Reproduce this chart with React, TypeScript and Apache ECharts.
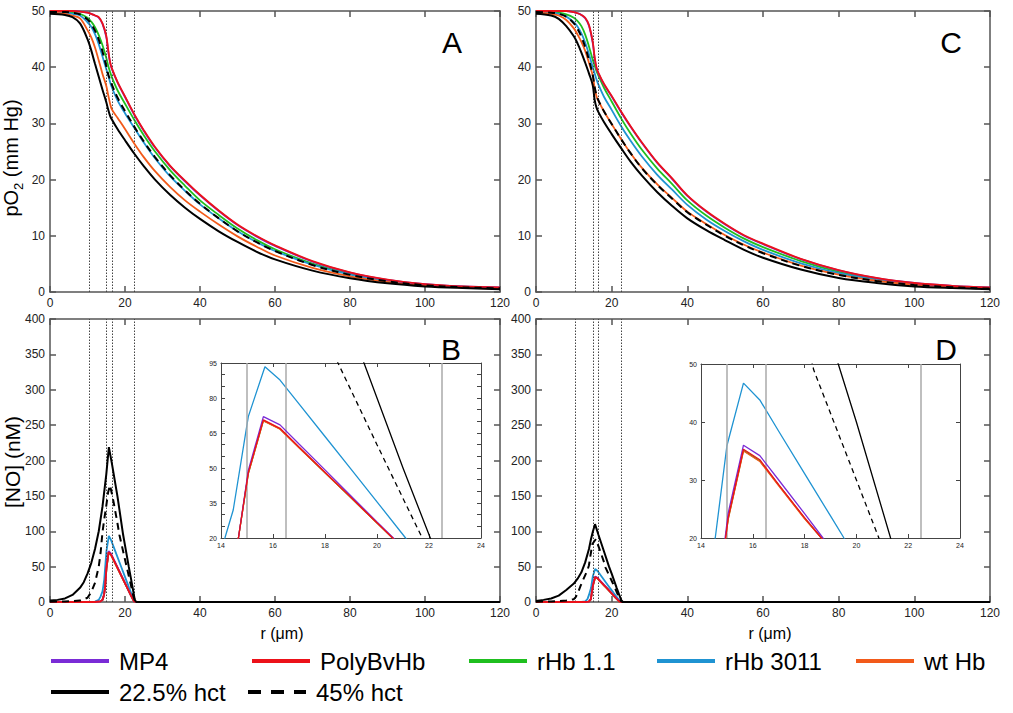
import React, { useEffect, useRef } from 'react';
import * as echarts from 'echarts';

// ---------- data ----------
const R_PO2 = [0, 4, 6, 8, 10, 11, 12, 13, 14, 15, 15.5, 16, 16.5, 18, 20, 22.5, 25, 28, 32, 36, 40, 45, 50, 55, 60, 70, 80, 90, 100, 110, 120];

// Panel A (pO2, mm Hg)
const A_MP4 = [50, 50, 50, 49.9, 49.7, 49.5, 49.2, 48.8, 47.7, 45.4, 43, 40.9, 39.7, 37.3, 34.7, 31.5, 28.7, 25.7, 22.4, 19.7, 17.2, 14.4, 11.9, 9.9, 8.2, 5.4, 3.45, 2.15, 1.4, 1.0, 0.8];
const A_POLY = [50, 50, 50, 49.9, 49.7, 49.5, 49.2, 48.9, 47.8, 45.6, 43.2, 41, 39.8, 37.4, 34.8, 31.6, 28.8, 25.8, 22.5, 19.8, 17.3, 14.5, 12, 10, 8.3, 5.5, 3.5, 2.2, 1.4, 1.0, 0.8];
const A_RHB11 = [49.9, 49.8, 49.7, 49.5, 48.8, 48.1, 47.1, 45.7, 43.9, 41.7, 40.3, 39.2, 38.2, 35.9, 33.5, 30.6, 27.9, 25, 21.7, 18.9, 16.3, 13.7, 11.3, 9.3, 7.6, 5.05, 3.25, 2.05, 1.3, 0.95, 0.75];
const A_RHB3011 = [49.8, 49.7, 49.5, 49.2, 48, 47.2, 45.9, 44.1, 41.9, 39.7, 38.6, 37.4, 36.4, 34.1, 31.8, 29.2, 26.6, 23.8, 20.6, 18, 15.6, 13.1, 10.8, 8.9, 7.3, 4.85, 3.1, 1.95, 1.25, 0.9, 0.7];
const A_WT = [49.7, 49.5, 49.2, 48.7, 46.6, 45.3, 43.5, 41.2, 38.8, 36.7, 35.1, 33.6, 32.5, 31, 29, 26.4, 24, 21.5, 18.7, 16.3, 14.3, 12, 9.9, 8.1, 6.5, 4.3, 2.8, 1.8, 1.15, 0.8, 0.6];
const A_HCT22 = [49.5, 49.3, 48.9, 47.8, 45, 43, 40.6, 38.3, 36, 33.8, 32.5, 31.4, 30.7, 29, 27, 24.6, 22.4, 20, 17.3, 15, 13, 10.8, 8.9, 7.2, 5.8, 3.8, 2.45, 1.55, 1.0, 0.7, 0.5];
const A_HCT45 = [49.8, 49.8, 49.7, 49.4, 48.5, 47.7, 46.5, 44.9, 42.8, 40.2, 38.8, 37.8, 36.9, 34.6, 32.2, 29.4, 26.8, 24, 20.8, 18.1, 15.7, 13.1, 10.8, 8.9, 7.3, 4.8, 3.05, 1.9, 1.2, 0.85, 0.65];

// Panel C (pO2, mm Hg)
const C_MP4 = [50, 50, 50, 50, 49.8, 49.6, 49.3, 48.7, 47.4, 44.3, 41.6, 39.8, 38.9, 36.9, 34.8, 32, 29.4, 26.5, 23, 20.1, 17.1, 14.3, 12, 10, 8.5, 5.85, 3.85, 2.45, 1.6, 1.1, 0.8];
const C_POLY = [50, 50, 50, 50, 49.8, 49.6, 49.3, 48.8, 47.5, 44.5, 41.8, 39.9, 39, 37, 34.9, 32.1, 29.5, 26.6, 23.1, 20.2, 17.2, 14.4, 12.1, 10.1, 8.6, 5.9, 3.9, 2.5, 1.6, 1.1, 0.8];
const C_RHB11 = [49.9, 49.8, 49.7, 49.4, 48.8, 48.2, 47.3, 45.8, 43.7, 41.3, 40.3, 39.3, 38.5, 36.3, 33.9, 30.9, 28.2, 25.3, 22, 19.2, 16.3, 13.6, 11.4, 9.5, 8.0, 5.5, 3.6, 2.3, 1.5, 1.0, 0.75];
const C_RHB3011 = [49.8, 49.7, 49.5, 49, 48, 47.2, 46, 44.4, 42.3, 40, 38.9, 37.8, 36.9, 34.7, 32.4, 29.5, 26.9, 24.1, 20.9, 18.2, 15.5, 12.9, 10.8, 9.0, 7.5, 5.1, 3.35, 2.15, 1.4, 0.95, 0.7];
const C_WT = [49.7, 49.5, 49.2, 48.4, 46.9, 45.8, 44.5, 42.9, 40.8, 38.5, 36.3, 34.8, 34, 32.1, 29.9, 27.2, 24.7, 22.1, 19.2, 16.7, 14.3, 12.1, 10.1, 8.4, 7.0, 4.7, 3.1, 2.0, 1.3, 0.9, 0.65];
const C_HCT22 = [49.5, 49.2, 48.6, 47.3, 45.5, 44.2, 42.6, 40.8, 38.9, 36.8, 34.2, 32.8, 32, 30.2, 28.1, 25.6, 23.2, 20.7, 17.8, 15.3, 13.1, 11, 9.2, 7.5, 6.1, 4.0, 2.5, 1.6, 1.0, 0.7, 0.5];
const C_HCT45 = [49.8, 49.7, 49.5, 49, 47.8, 46.8, 45.4, 43.6, 41.3, 38.6, 36.5, 35, 34.1, 32.1, 29.9, 27.2, 24.7, 22.0, 19.1, 16.6, 14.2, 12, 10, 8.3, 6.9, 4.65, 3.05, 1.95, 1.25, 0.85, 0.6];

// Panel B ([NO], nM) as [r, value]
const B_MP4 = [[0, 0], [12, 0], [13.5, 1], [14, 3], [14.4, 10], [14.67, 20], [15.05, 49], [15.63, 72], [16.27, 68.5], [17, 60.3], [18, 49.2], [19, 38], [20, 26.9], [20.6, 20.3], [21.5, 10.2], [22.4, 1], [23, 0], [30, 0], [120, 0]];
const B_POLY = [[0, 0], [12, 0], [13.5, 1], [14, 3], [14.4, 10], [14.67, 20], [15.05, 48], [15.63, 70.6], [16.27, 67], [17, 59], [18, 48.2], [19, 37.4], [20, 26.5], [20.6, 20], [21.5, 10], [22.4, 1], [23, 0], [30, 0], [120, 0]];
const B_RHB11 = [[0, 0], [12, 0], [13.5, 1], [14, 3], [14.4, 10], [14.67, 20], [15.05, 47.6], [15.63, 70.3], [16.27, 66.7], [17, 58.8], [18, 48], [19, 37.2], [20, 26.4], [20.6, 20], [21.5, 10], [22.4, 1], [23, 0], [30, 0], [120, 0]];
const B_RHB3011 = [[0, 0], [10, 0], [12, 0.5], [13, 3], [13.5, 8], [14, 15], [14.15, 20], [14.47, 32], [15.05, 72], [15.69, 93.4], [16.27, 87.7], [17, 77.5], [18, 63.5], [19, 49.5], [20, 35.5], [21.1, 20], [22, 8], [22.6, 1], [23, 0], [30, 0], [120, 0]];
const B_WT = [[0, 0], [12, 0], [13.5, 1], [14, 3], [14.4, 10], [14.67, 20], [15.05, 47.5], [15.63, 70.2], [16.27, 66.6], [17, 58.7], [18, 48], [19, 37.2], [20, 26.4], [20.6, 20], [21.5, 10], [22.4, 1], [23, 0], [30, 0], [120, 0]];
const B_HCT22 = [[0, 2], [2, 3], [4, 5], [6, 10], [8, 20], [9, 28], [10, 40], [11, 55], [12, 75], [13, 100], [14, 135], [15, 180], [15.7, 219], [16.5, 196], [18, 149], [19.5, 95], [20, 80], [21, 50], [22.05, 20], [22.6, 3], [23, 0], [30, 0], [120, 0]];
const B_HCT45 = [[0, 0.5], [4, 0.8], [8, 2], [10, 6], [11, 14], [12, 27], [13, 50], [13.5, 70], [14, 99], [14.5, 118], [15, 136], [15.5, 155], [16, 165], [16.5, 153], [17, 140], [18, 111], [18.5, 95], [20, 60], [21, 37], [21.74, 20], [22.2, 9], [22.8, 0], [30, 0], [120, 0]];

// Panel D ([NO], nM) as [r, value]
const D_MP4 = [[0, 0], [13, 0], [14, 0.5], [14.5, 4], [14.93, 20], [15.05, 24.3], [15.64, 36], [16.27, 34.2], [17, 30], [18, 24.2], [18.71, 20], [20, 12.5], [21, 6.7], [22, 1.5], [22.5, 0], [30, 0], [120, 0]];
const D_POLY = [[0, 0], [13, 0], [14, 0.5], [14.5, 4], [14.95, 20], [15.05, 23.5], [15.64, 35.3], [16.27, 33.5], [17, 29.2], [18, 23.5], [18.65, 20], [20, 12.1], [21, 6.3], [22, 1], [22.5, 0], [30, 0], [120, 0]];
const D_RHB11 = [[0, 0], [13, 0], [14, 0.5], [14.5, 4], [14.95, 20], [15.05, 23.3], [15.64, 35.1], [16.27, 33.3], [17, 29.1], [18, 23.4], [18.65, 20], [20, 12], [21, 6.2], [22, 1], [22.5, 0], [30, 0], [120, 0]];
const D_RHB3011 = [[0, 0], [12, 0], [13, 1], [13.6, 4], [14, 10], [14.55, 20], [15.0, 35.9], [15.64, 46.7], [16.27, 43.8], [17, 38.4], [18, 31.1], [19, 23.8], [19.52, 20], [20.5, 13], [21.5, 6], [22.4, 0.5], [23, 0], [30, 0], [120, 0]];
const D_WT = [[0, 0], [13, 0], [14, 0.5], [14.5, 4], [14.95, 20], [15.05, 23.2], [15.64, 35], [16.27, 33.2], [17, 29], [18, 23.3], [18.65, 20], [20, 12], [21, 6.2], [22, 1], [22.5, 0], [30, 0], [120, 0]];
const D_HCT22 = [[0, 1.5], [2, 3], [4, 5], [6, 9], [8, 17], [10, 26], [11, 33], [12, 42], [13, 56], [14, 75], [14.5, 88], [15, 99], [15.6, 110], [16.5, 95], [18, 71], [19.3, 50], [20, 40], [21.32, 20], [22, 10], [22.6, 2], [23, 0], [30, 0], [120, 0]];
const D_HCT45 = [[0, 0.5], [4, 0.8], [8, 2], [10, 4], [10.5, 7], [11, 12], [11.8, 23], [12.5, 32], [13.6, 45], [14.0, 52], [14.4, 66], [14.9, 82], [15.8, 88.7], [16.5, 79], [17, 71.5], [18, 56], [18.35, 49], [19, 41.5], [20, 30], [20.85, 20.2], [21.5, 12], [22.5, 1], [23, 0], [30, 0], [120, 0]];

const VLINES = [10.5, 15, 16.5, 22.5];
const INSET_B_YLABELS = [20, 35, 50, 65, 80, 95];
const INSET_B_YTICKS = [20, 25, 30, 35, 40, 45, 50, 55, 60, 65, 70, 75, 80, 85, 90, 95];

// ---------- styling ----------
const FONT = '"Liberation Sans", Arial, sans-serif';
const SERIES = [
  { key: 'rHb 1.1', color: '#1fbf1f' },
  { key: 'rHb 3011', color: '#1f93d2' },
  { key: 'wt Hb', color: '#f25a1a' },
  { key: 'MP4', color: '#7a2bd6' },
  { key: 'PolyBvHb', color: '#ec1119' },
  { key: '22.5% hct', color: '#000000' },
  { key: '45% hct', color: '#000000', dash: true },
];
const LEGEND_ROWS = [
  ['MP4', 'PolyBvHb', 'rHb 1.1', 'rHb 3011', 'wt Hb'],
  ['22.5% hct', '45% hct'],
];

function zip(xs: number[], ys: number[]) {
  return xs.map((x, i) => [x, ys[i]]);
}

const A_DATA: Record<string, number[][]> = {
  'MP4': zip(R_PO2, A_MP4), 'PolyBvHb': zip(R_PO2, A_POLY), 'rHb 1.1': zip(R_PO2, A_RHB11),
  'rHb 3011': zip(R_PO2, A_RHB3011), 'wt Hb': zip(R_PO2, A_WT), '22.5% hct': zip(R_PO2, A_HCT22), '45% hct': zip(R_PO2, A_HCT45),
};
const C_DATA: Record<string, number[][]> = {
  'MP4': zip(R_PO2, C_MP4), 'PolyBvHb': zip(R_PO2, C_POLY), 'rHb 1.1': zip(R_PO2, C_RHB11),
  'rHb 3011': zip(R_PO2, C_RHB3011), 'wt Hb': zip(R_PO2, C_WT), '22.5% hct': zip(R_PO2, C_HCT22), '45% hct': zip(R_PO2, C_HCT45),
};
const B_DATA: Record<string, number[][]> = {
  'MP4': B_MP4, 'PolyBvHb': B_POLY, 'rHb 1.1': B_RHB11, 'rHb 3011': B_RHB3011, 'wt Hb': B_WT, '22.5% hct': B_HCT22, '45% hct': B_HCT45,
};
const D_DATA: Record<string, number[][]> = {
  'MP4': D_MP4, 'PolyBvHb': D_POLY, 'rHb 1.1': D_RHB11, 'rHb 3011': D_RHB3011, 'wt Hb': D_WT, '22.5% hct': D_HCT22, '45% hct': D_HCT45,
};

type AxStyle = { line: string; lw: number; tick: number; font: number; margin: number };
const MAIN_STYLE: AxStyle = { line: '#555', lw: 1.5, tick: 6, font: 12, margin: 5 };
const INSET_STYLE: AxStyle = { line: '#444', lw: 1, tick: 4, font: 7, margin: 4 };

function buildAxes(grid: number, x: number[], y: number[], st: AxStyle, yCustom?: { labels: number[]; ticks: number[] }) {
  const axisLine = { show: true, onZero: false, lineStyle: { color: st.line, width: st.lw } };
  const tick: any = { show: true, inside: true, length: st.tick, lineStyle: { color: st.line, width: st.lw } };
  const label: any = { show: true, fontSize: st.font, color: '#222', fontFamily: FONT, margin: st.margin };
  const base = { type: 'value', gridIndex: grid, splitLine: { show: false }, axisLine };
  const xa = [
    { ...base, position: 'bottom', min: x[0], max: x[1], interval: x[2], axisTick: tick, axisLabel: label },
    { ...base, position: 'top', min: x[0], max: x[1], interval: x[2], axisTick: tick, axisLabel: { show: false } },
  ];
  let ya: any[];
  if (yCustom) {
    const t = { ...tick, customValues: yCustom.ticks };
    ya = [
      { ...base, position: 'left', min: y[0], max: y[1], axisTick: t, axisLabel: { ...label, customValues: yCustom.labels } },
      { ...base, position: 'right', min: y[0], max: y[1], axisTick: t, axisLabel: { show: false } },
    ];
  } else {
    ya = [
      { ...base, position: 'left', min: y[0], max: y[1], interval: y[2], axisTick: tick, axisLabel: label },
      { ...base, position: 'right', min: y[0], max: y[1], interval: y[2], axisTick: tick, axisLabel: { show: false } },
    ];
  }
  return { xa, ya };
}

function buildSeries(grid: number, data: Record<string, number[][]>, smooth: boolean, inset: boolean, vlines: number[]) {
  return SERIES.map((s, i) => {
    const ser: any = {
      type: 'line',
      name: s.key,
      xAxisIndex: grid * 2,
      yAxisIndex: grid * 2,
      data: data[s.key],
      showSymbol: false,
      symbol: 'none',
      clip: true,
      smooth: smooth ? 0.35 : false,
      lineStyle: {
        color: s.color,
        width: inset ? 1.3 : (s.color === '#000000' ? 2 : 1.8),
        type: s.dash ? (inset ? [5, 4] : [7, 5]) : 'solid',
      },
      z: 3 + i,
      silent: true,
    };
    if (i === 0) {
      ser.markLine = {
        silent: true,
        symbol: ['none', 'none'],
        label: { show: false },
        lineStyle: inset
          ? { color: '#aaaaaa', width: 1.5, type: 'solid' }
          : { color: '#444', width: 1, type: [1.5, 1.5] },
        data: vlines.map((v) => ({ xAxis: v })),
      };
    }
    return ser;
  });
}

export default function App() {
  const ref = useRef<HTMLDivElement>(null);
  useEffect(() => {
    if (!ref.current) return;
    const chart = echarts.init(ref.current, undefined, { renderer: 'svg' });

    const grids = [
      { left: 50, top: 11, width: 450, height: 281 },
      { left: 50, top: 319, width: 450, height: 283 },
      { left: 536, top: 11, width: 454, height: 281 },
      { left: 536, top: 319, width: 454, height: 283 },
      { left: 221, top: 363, width: 260, height: 175, show: true, backgroundColor: '#fff', borderWidth: 0 },
      { left: 701, top: 364, width: 259, height: 174, show: true, backgroundColor: '#fff', borderWidth: 0 },
    ].map((g) => ({ ...g, containLabel: false, outerBoundsMode: 'none' }));

    const axSpecs = [
      buildAxes(0, [0, 120, 20], [0, 50, 10], MAIN_STYLE),
      buildAxes(1, [0, 120, 20], [0, 400, 50], MAIN_STYLE),
      buildAxes(2, [0, 120, 20], [0, 50, 10], MAIN_STYLE),
      buildAxes(3, [0, 120, 20], [0, 400, 50], MAIN_STYLE),
      buildAxes(4, [14, 24, 2], [20, 95, 15], INSET_STYLE, { labels: INSET_B_YLABELS, ticks: INSET_B_YTICKS }),
      buildAxes(5, [14, 24, 2], [20, 50, 10], INSET_STYLE),
    ];
    const xAxis = axSpecs.flatMap((a) => a.xa);
    const yAxis = axSpecs.flatMap((a) => a.ya);

    const insetV = VLINES.filter((v) => v >= 14);
    const series = [
      ...buildSeries(0, A_DATA, true, false, VLINES),
      ...buildSeries(1, B_DATA, false, false, VLINES),
      ...buildSeries(2, C_DATA, true, false, VLINES),
      ...buildSeries(3, D_DATA, false, false, VLINES),
      ...buildSeries(4, B_DATA, false, true, insetV),
      ...buildSeries(5, D_DATA, false, true, insetV),
    ];

    const txt = (text: string, x: number, y: number, size: number, extra: any = {}) => ({
      type: 'text', x, y, silent: true, z: 100,
      style: { text, fontSize: size, fontFamily: FONT, fill: '#000', align: 'center', verticalAlign: 'middle', textAlign: 'center', textVerticalAlign: 'middle', ...extra },
    });

    const graphic: any[] = [
      txt('A', 452, 42, 30),
      txt('C', 951, 42, 30),
      txt('B', 451, 349, 30),
      txt('D', 946, 349, 30),
      txt('r (\u03bcm)', 282, 633, 16),
      txt('r (\u03bcm)', 770, 633, 16),
      {
        type: 'text', x: 13, y: 158, rotation: Math.PI / 2, silent: true, z: 100,
        style: {
          text: '{a|pO}{s|2}{a| (mm Hg)}',
          align: 'center', verticalAlign: 'middle', textAlign: 'center', textVerticalAlign: 'middle',
          fill: '#000',
          rich: {
            a: { fontSize: 20, fontFamily: FONT, fill: '#000', verticalAlign: 'bottom', padding: [0, 0, 4, 0] },
            s: { fontSize: 13, fontFamily: FONT, fill: '#000', verticalAlign: 'bottom' },
          },
        },
      },
      { type: 'text', x: 12, y: 462, rotation: Math.PI / 2, silent: true, z: 100,
        style: { text: '[NO] (nM)', fontSize: 21, fontFamily: FONT, fill: '#000', align: 'center', verticalAlign: 'middle', textAlign: 'center', textVerticalAlign: 'middle' } },
    ];

    const legendPos: Record<string, { x: number; y: number }> = {
      'MP4': { x: 51, y: 661 },
      'PolyBvHb': { x: 252, y: 661 },
      'rHb 1.1': { x: 469, y: 661 },
      'rHb 3011': { x: 657, y: 661 },
      'wt Hb': { x: 856, y: 661 },
      '22.5% hct': { x: 51, y: 692 },
      '45% hct': { x: 248, y: 692 },
    };
    LEGEND_ROWS.flat().forEach((k) => {
      const s = SERIES.find((q) => q.key === k)!;
      const p = legendPos[k];
      graphic.push({
        type: 'line', silent: true, z: 100,
        shape: { x1: p.x, y1: p.y, x2: p.x + 58, y2: p.y },
        style: { stroke: s.color, lineWidth: 4, lineDash: s.dash ? [13, 10] : null },
      });
      graphic.push({
        type: 'text', x: p.x + 68, y: p.y, silent: true, z: 100,
        style: { text: k, fontSize: 24, fontFamily: FONT, fill: '#000', align: 'left', verticalAlign: 'middle', textAlign: 'left', textVerticalAlign: 'middle' },
      });
    });

    chart.setOption({
      animation: false,
      backgroundColor: '#fff',
      grid: grids,
      xAxis,
      yAxis,
      series,
      graphic,
    });
    return () => chart.dispose();
  }, []);
  return (
    <div
      ref={ref}
      style={{ position: 'absolute', left: 0, top: 0, width: 1013, height: 713, background: '#fff' }}
    />
  );
}
